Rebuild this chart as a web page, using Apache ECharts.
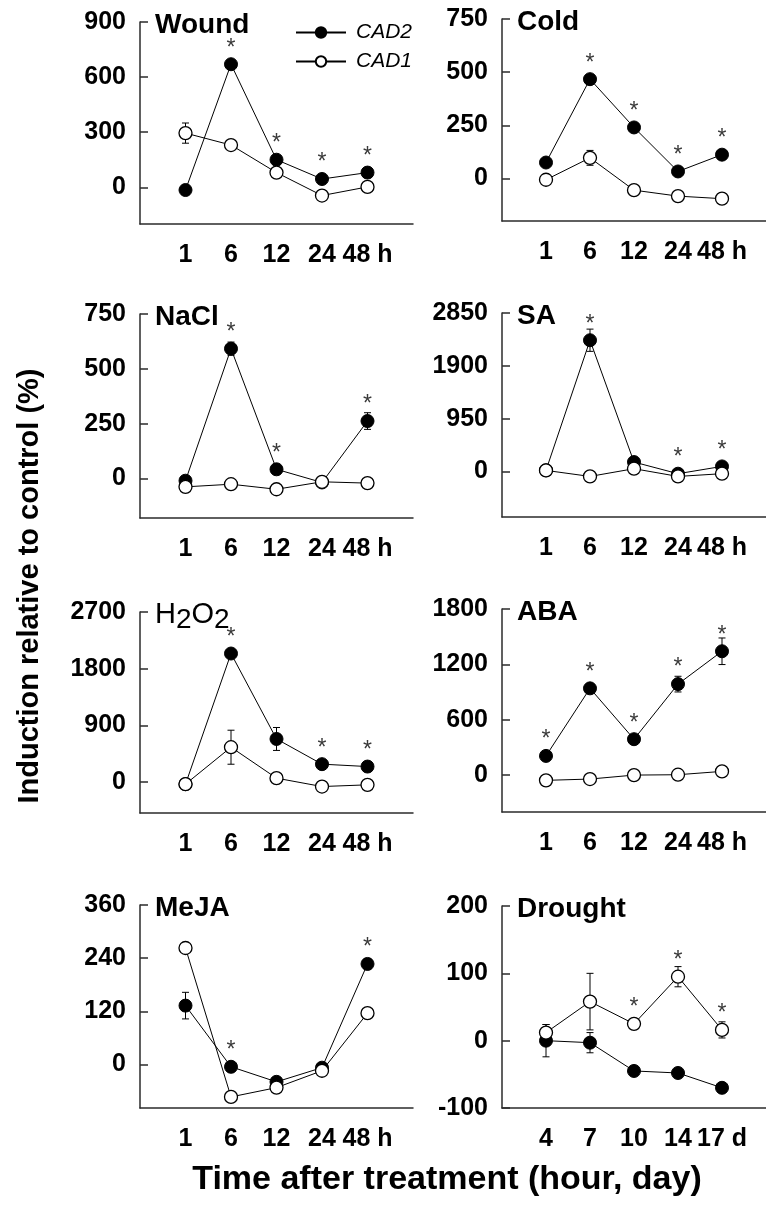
<!DOCTYPE html>
<html>
<head>
<meta charset="utf-8">
<script src="https://cdn.jsdelivr.net/npm/echarts@6/dist/echarts.min.js"></script>
<style>
  html, body { margin: 0; padding: 0; background: #fff; }
  #chart { width: 766px; height: 1210px; }
</style>
</head>
<body>
<div id="chart"></div>
<script>
// x categories
const hourLabels = ['1', '6', '12', '24', '48 h'];
const dayLabels = ['4', '7', '10', '14', '17 d'];

// Wound
const woundTicks = [0, 300, 600, 900];
const woundCAD2 = [-15, 670, 150, 45, 80];
const woundCAD2Err = [10, 15, 20, 10, 15];
const woundCAD1 = [295, 230, 80, -45, 2];
const woundCAD1Err = [55, 10, 10, 10, 10];
const woundStar2 = [0, 1, 1, 1, 1];
const woundStar1 = [0, 0, 0, 0, 0];

// Cold
const coldTicks = [0, 250, 500, 750];
const coldCAD2 = [75, 467, 240, 33, 112];
const coldCAD2Err = [10, 15, 15, 10, 20];
const coldCAD1 = [-6, 97, -55, -83, -95];
const coldCAD1Err = [5, 35, 8, 5, 5];
const coldStar2 = [0, 1, 1, 1, 1];
const coldStar1 = [0, 0, 0, 0, 0];

// NaCl
const naclTicks = [0, 250, 500, 750];
const naclCAD2 = [-10, 592, 42, -18, 262];
const naclCAD2Err = [10, 30, 15, 10, 38];
const naclCAD1 = [-38, -26, -49, -15, -21];
const naclCAD1Err = [5, 5, 5, 5, 5];
const naclStar2 = [0, 1, 1, 0, 1];
const naclStar1 = [0, 0, 0, 0, 0];

// SA
const saTicks = [0, 950, 1900, 2850];
const saCAD2 = [20, 2360, 168, -41, 90];
const saCAD2Err = [20, 200, 40, 20, 40];
const saCAD1 = [18, -90, 49, -90, -41];
const saCAD1Err = [10, 10, 10, 10, 10];
const saStar2 = [0, 1, 0, 1, 1];
const saStar1 = [0, 0, 0, 0, 0];

// H2O2
const h2o2Ticks = [0, 900, 1800, 2700];
const h2o2CAD2 = [-32, 2041, 685, 285, 247];
const h2o2CAD2Err = [20, 60, 182, 50, 40];
const h2o2CAD1 = [-32, 554, 63, -70, -43];
const h2o2CAD1Err = [20, 270, 20, 20, 20];
const h2o2Star2 = [0, 1, 0, 1, 1];
const h2o2Star1 = [0, 0, 0, 0, 0];

// ABA
const abaTicks = [0, 600, 1200, 1800];
const abaCAD2 = [208, 940, 389, 986, 1342];
const abaCAD2Err = [40, 40, 40, 85, 144];
const abaCAD1 = [-57, -43, 0, 4, 40];
const abaCAD1Err = [10, 10, 10, 10, 10];
const abaStar2 = [1, 1, 1, 1, 1];
const abaStar1 = [0, 0, 0, 0, 0];

// MeJA
const mejaTicks = [0, 120, 240, 360];
const mejaCAD2 = [133, -5, -39, -7, 227];
const mejaCAD2Err = [30, 8, 8, 8, 12];
const mejaCAD1 = [263, -73, -52, -14, 116];
const mejaCAD1Err = [5, 5, 5, 5, 5];
const mejaStar2 = [0, 1, 0, 0, 1];
const mejaStar1 = [0, 0, 0, 0, 0];

// Drought
const droughtTicks = [-100, 0, 100, 200];
const droughtCAD2 = [0, -3, -45, -48, -70];
const droughtCAD2Err = [24, 15, 5, 5, 5];
const droughtCAD1 = [12, 58, 25, 95, 16];
const droughtCAD1Err = [12, 42, 5, 15, 12];
const droughtStar2 = [0, 0, 0, 0, 0];
const droughtStar1 = [0, 0, 1, 1, 1];

const ff = "'Liberation Sans', Arial, sans-serif";

const panels = [
  { title: 'Wound', col: 0, top: 22, height: 202, min: -200, labels: hourLabels, ticks: woundTicks,
    cad2: woundCAD2, cad2Err: woundCAD2Err, cad1: woundCAD1, cad1Err: woundCAD1Err, star2: woundStar2, star1: woundStar1 },
  { title: 'Cold', col: 1, top: 19, height: 202, min: -200, labels: hourLabels, ticks: coldTicks,
    cad2: coldCAD2, cad2Err: coldCAD2Err, cad1: coldCAD1, cad1Err: coldCAD1Err, star2: coldStar2, star1: coldStar1 },
  { title: 'NaCl', col: 0, top: 314, height: 204, min: -180, labels: hourLabels, ticks: naclTicks,
    cad2: naclCAD2, cad2Err: naclCAD2Err, cad1: naclCAD1, cad1Err: naclCAD1Err, star2: naclStar2, star1: naclStar1 },
  { title: 'SA', col: 1, top: 313, height: 204, min: -820, labels: hourLabels, ticks: saTicks,
    cad2: saCAD2, cad2Err: saCAD2Err, cad1: saCAD1, cad1Err: saCAD1Err, star2: saStar2, star1: saStar1 },
  { title: 'H2O2', col: 0, top: 612, height: 201, min: -490, labels: hourLabels, ticks: h2o2Ticks,
    cad2: h2o2CAD2, cad2Err: h2o2CAD2Err, cad1: h2o2CAD1, cad1Err: h2o2CAD1Err, star2: h2o2Star2, star1: h2o2Star1 },
  { title: 'ABA', col: 1, top: 609, height: 203, min: -400, labels: hourLabels, ticks: abaTicks,
    cad2: abaCAD2, cad2Err: abaCAD2Err, cad1: abaCAD1, cad1Err: abaCAD1Err, star2: abaStar2, star1: abaStar1 },
  { title: 'MeJA', col: 0, top: 905, height: 203, min: -98, labels: hourLabels, ticks: mejaTicks,
    cad2: mejaCAD2, cad2Err: mejaCAD2Err, cad1: mejaCAD1, cad1Err: mejaCAD1Err, star2: mejaStar2, star1: mejaStar1 },
  { title: 'Drought', col: 1, top: 906, height: 202, min: -100, labels: dayLabels, ticks: droughtTicks,
    cad2: droughtCAD2, cad2Err: droughtCAD2Err, cad1: droughtCAD1, cad1Err: droughtCAD1Err, star2: droughtStar2, star1: droughtStar1 }
];

const axisColor = '#2b2b2b';
const tickFont = { fontSize: 25, fontWeight: 'bold', color: '#000', fontFamily: ff };

function renderErr(params, api) {
  const x = api.value(0), v = api.value(1), e = api.value(2);
  const hi = api.coord([x, v + e]);
  const lo = api.coord([x, v - e]);
  const w = 3.5;
  const st = { stroke: '#000', lineWidth: 1 };
  return {
    type: 'group',
    children: [
      { type: 'line', shape: { x1: hi[0], y1: hi[1], x2: lo[0], y2: lo[1] }, style: st },
      { type: 'line', shape: { x1: hi[0] - w, y1: hi[1], x2: hi[0] + w, y2: hi[1] }, style: st },
      { type: 'line', shape: { x1: lo[0] - w, y1: lo[1], x2: lo[0] + w, y2: lo[1] }, style: st }
    ]
  };
}

function renderStar(params, api) {
  const p = api.coord([api.value(0), api.value(1)]);
  return {
    type: 'text', x: p[0], y: p[1] - 16,
    style: { text: '*', fontSize: 23, fontFamily: ff, fill: '#3a3a3a', align: 'center', verticalAlign: 'middle' }
  };
}

const grid = [], xAxis = [], yAxis = [], series = [], graphic = [];

panels.forEach((p, i) => {
  grid.push({ left: p.col ? 502 : 140, width: p.col ? 274 : 273, top: p.top, height: p.height });
  xAxis.push({
    type: 'value', gridIndex: i, min: 0, max: 6,
    axisLine: { onZero: false, lineStyle: { color: axisColor, width: 1.5 } },
    axisTick: { show: false },
    splitLine: { show: false },
    axisLabel: Object.assign({ customValues: [1, 2, 3, 4, 5], formatter: v => p.labels[v - 1], margin: 19 }, tickFont)
  });
  yAxis.push({
    type: 'value', gridIndex: i, min: p.min, max: p.ticks[p.ticks.length - 1],
    axisLine: { show: true, onZero: false, lineStyle: { color: axisColor, width: 1.5 } },
    axisTick: { show: true, inside: true, length: 8, customValues: p.ticks, lineStyle: { color: axisColor, width: 1.5 } },
    splitLine: { show: false },
    axisLabel: Object.assign({ customValues: p.ticks, formatter: v => String(v), margin: 14 }, tickFont)
  });

  const errData = p.cad2.map((v, k) => [k + 1, v, p.cad2Err[k]])
    .concat(p.cad1.map((v, k) => [k + 1, v, p.cad1Err[k]]));
  series.push({
    type: 'custom', xAxisIndex: i, yAxisIndex: i, z: 1, silent: true,
    renderItem: renderErr, encode: { x: 0, y: 1 }, data: errData
  });
  series.push({
    name: 'CAD2', type: 'line', xAxisIndex: i, yAxisIndex: i, z: 3,
    symbol: 'circle', symbolSize: 13,
    lineStyle: { color: '#000', width: 1 },
    itemStyle: { color: '#000', borderColor: '#000', borderWidth: 1 },
    data: p.cad2.map((v, k) => [k + 1, v])
  });
  series.push({
    name: 'CAD1', type: 'line', xAxisIndex: i, yAxisIndex: i, z: 3,
    symbol: 'circle', symbolSize: 13,
    lineStyle: { color: '#000', width: 1 },
    itemStyle: { color: '#fff', borderColor: '#000', borderWidth: 1.3 },
    data: p.cad1.map((v, k) => [k + 1, v])
  });
  const starData = [];
  p.cad2.forEach((v, k) => { if (p.star2[k]) starData.push([k + 1, v]); });
  p.cad1.forEach((v, k) => { if (p.star1[k]) starData.push([k + 1, v]); });
  series.push({
    type: 'custom', xAxisIndex: i, yAxisIndex: i, z: 4, silent: true,
    renderItem: renderStar, encode: { x: 0, y: 1 }, data: starData
  });

  const tx = (p.col ? 502 : 140) + 15;
  const ty = p.top + 3;
  if (p.title === 'H2O2') {
    graphic.push({
      type: 'text', x: tx, y: ty, z: 10,
      style: {
        text: '{a|H}{b|2}{a|O}{b|2}', verticalAlign: 'middle',
        rich: {
          a: { fontSize: 29, fontFamily: ff, fill: '#000' },
          b: { fontSize: 28, fontFamily: ff, fill: '#000', padding: [11, 0, 0, 0] }
        }
      }
    });
  } else {
    graphic.push({
      type: 'text', x: tx, y: ty, z: 10,
      style: { text: p.title, fontSize: 28, fontWeight: 'bold', fontFamily: ff, fill: '#000', verticalAlign: 'middle' }
    });
  }
});

graphic.push({
  type: 'text', x: 30, y: 586, rotation: Math.PI / 2,
  style: { text: 'Induction relative to control (%)', fontSize: 29, fontWeight: 'bold', fontFamily: ff, fill: '#000', align: 'center', verticalAlign: 'middle' }
});
graphic.push({
  type: 'text', x: 447, y: 1180,
  style: { text: 'Time after treatment (hour, day)', fontSize: 34, fontWeight: 'bold', fontFamily: ff, fill: '#000', align: 'center', verticalAlign: 'middle' }
});

const chart = echarts.init(document.getElementById('chart'));
chart.setOption({
  animation: false,
  backgroundColor: '#fff',
  legend: {
    data: ['CAD2', 'CAD1'], orient: 'vertical', left: 290, top: 17,
    itemWidth: 50, itemHeight: 13, itemGap: 8,
    selectedMode: false,
    textStyle: { fontSize: 21, fontStyle: 'italic', fontFamily: ff, color: '#000', padding: [0, 0, 0, 5] }
  },
  grid: grid,
  xAxis: xAxis,
  yAxis: yAxis,
  series: series,
  graphic: graphic
});
</script>
</body>
</html>
